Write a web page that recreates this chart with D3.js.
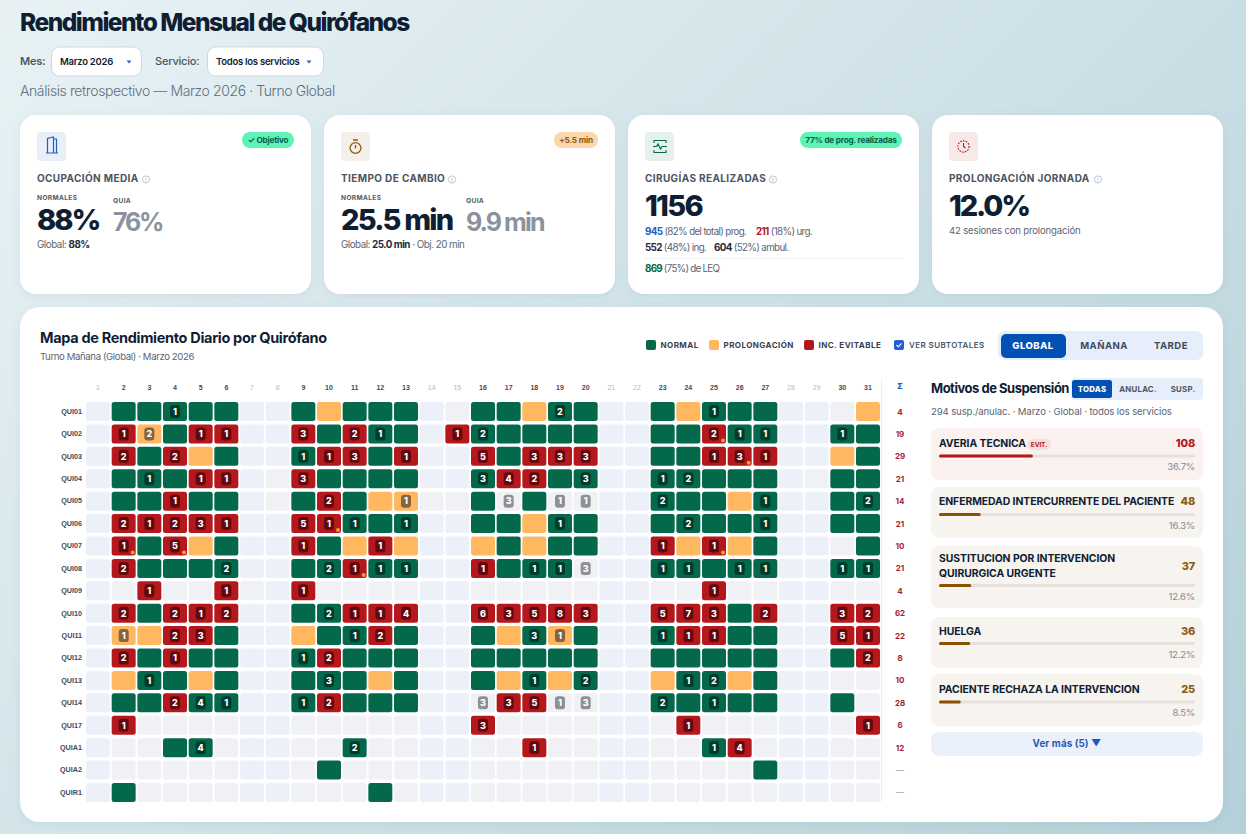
<!DOCTYPE html>
<html lang="es"><head><meta charset="utf-8"><title>Rendimiento Mensual de Quirófanos</title>
<script src="https://cdn.jsdelivr.net/npm/d3@7"></script>
<style>
html,body{margin:0;padding:0;overflow:hidden}
body{width:1246px;height:834px;background:linear-gradient(135deg,#e8f2f5 0%,#cfe2e8 50%,#b4d0d8 100%)}
svg{display:block;font-family:Inter,"Noto Sans",sans-serif}
</style></head><body><div id="app"></div>
<script>
const days = d3.range(1, 32);
const weekendDays = [1,7,8,14,15,21,22,28,29];
const rooms = ["QUI01","QUI02","QUI03","QUI04","QUI05","QUI06","QUI07","QUI08","QUI09","QUI10","QUI11","QUI12","QUI13","QUI14","QUI17","QUIA1","QUIA2","QUIR1"];
// N normal, R incidencia evitable, P prolongación, G sin sesión con suspensiones, - sin sesión, . fin de semana; número = suspensiones; * = aviso
const grid = [
". N N N1 N N . . N P N N N . - N N P N2 N . . N P N1 N N . . - P",
". R1 P2 N R1 R1 . . R3 N R2 N1 N . R1 N2 N N N N . . N N R2* N1 N1 . . N1 N",
". R2 N R2 P N . . N1 R1 R3 N R1 . . R5 N R3 R3 R3 . . N N R1 R3* R1 . . P N",
". N N1 N R1 R1 . - R3 N N N N . . N3 R4 R2 N N3 . . N1 N2 N N N . - N N",
". N N R1 N N . - N R2 N P P1 - - N G3 N G1 G1 . . N2 N N P N1 . . N N2",
". R2 R1 R2 R3 R1 . . R5 R1* N1 N N1 . . N N P N1 N . . N N2 N N N1 . . N N",
". R1* N R5* P N . . R1 N P R1 P . . P N P N N . . R1 P R1* P N . . - N",
". R2 N N N N2 . . N N2 R1* N1 N1 . . R1 N N1 N1 G3 . . N1 N1 N N1 N1 . . N1 N1",
". - R1 - - R1 - . R1 - - - - . . - - - - - . . - - R1 - - . . - -",
". R2 N R2 R1 R2 . . N N2 R1 R1 R4 . . R6 R3 R5 R8 R3 . . R5 R7 R3 N R2 . . R3 R2",
". P1 P R2 R3 N . . P N N1 R2 N . . N P N3 P1 N . . N1 R1 R1 N N . . R5 R1",
". R2 N R1 N N . . N1 R2 N N N . . N N N N N . . N N N N N . . N R2",
". P N1 N P N . . N N3 N P N . . N P N1 P N2 . . P N1 N2 P N . . - -",
". N N R2 N4 N1 . . N1 R2 N N N . . G3 R3 R5 G1 G3 . . N2 N N1 N N . . N -",
". R1 - - - - . . - - - - - . . R3 - - - - . . - R1 - - - . . - R1",
". - - N N4 - . . - - N2 - - . . - - R1 - - . . - - N1 R4 - . . - -",
". - - - - - . . - N - - - . . - - - - - . . - - - - N . . - -",
". N - - - - . . - - - N - . . - - - - - . . - - - - - . . - -"
];
const rowTotals = ["4","19","29","21","14","21","10","21","4","62","22","8","10","28","6","12","—","—"];
const motivoLabels = [["AVERIA TECNICA"],["ENFERMEDAD INTERCURRENTE DEL PACIENTE"],["SUSTITUCION POR INTERVENCION","QUIRURGICA URGENTE"],["HUELGA"],["PACIENTE RECHAZA LA INTERVENCION"]];
const motivoCounts = [108,48,37,36,25];
const motivoPct = [36.7,16.3,12.6,12.2,8.5];

const cellFill = {N:"#04694a", R:"#b4181c", P:"#ffb860", G:"#eff1f5", "-":"#eff1f5", ".":"#ebf0f9"};
const badgeFill = {N:"rgba(0,30,25,.62)", R:"rgba(50,0,5,.62)", P:"rgba(40,30,30,.55)", G:"#8e9096"};

const svg = d3.select("#app").append("svg").attr("width",1246).attr("height",834).attr("viewBox","0 0 1246 834");
const defs = svg.append("defs");
const f = defs.append("filter").attr("id","sh").attr("x","-5%").attr("y","-5%").attr("width","110%").attr("height","115%");
f.append("feDropShadow").attr("dx",0).attr("dy",2).attr("stdDeviation",4).attr("flood-color","#64808c").attr("flood-opacity",.12);

function T(g,x,y,s,o={}){
  const t=g.append("text").attr("x",x).attr("y",y).text(s)
   .attr("font-size",o.size||10).attr("font-weight",o.w||400).attr("fill",o.fill||"#0f1e33")
   .attr("text-anchor",o.a||"start").style("letter-spacing",(o.ls||0)+"px");
  return t;
}
function R(g,x,y,w,h,r,fill,o={}){
  const e=g.append("rect").attr("x",x).attr("y",y).attr("width",w).attr("height",h).attr("rx",r).attr("fill",fill);
  if(o.stroke) e.attr("stroke",o.stroke);
  if(o.filter) e.attr("filter",o.filter);
  return e;
}
function rich(g,x,y,parts,size,ls){
  const t=g.append("text").attr("x",x).attr("y",y).attr("font-size",size).style("letter-spacing",(ls||0)+"px");
  parts.forEach(p=>t.append("tspan").text(p[0]).attr("font-weight",p[1]||400).attr("fill",p[2]||"#5b6573"));
  return t;
}

// Header
T(svg,20,31,"Rendimiento Mensual de Quirófanos",{size:24.5,w:800,ls:-1.52});
T(svg,20,65,"Mes:",{size:11,w:600,fill:"#4b5563",ls:-.2});
R(svg,51.5,47,90,29,8,"#fff",{stroke:"#cdd8e2"});
T(svg,60,65,"Marzo 2026",{size:9.5,w:600,ls:-.25});
T(svg,155,65,"Servicio:",{size:11,w:500,fill:"#4b5563",ls:-.2});
R(svg,207.5,47,116,29,8,"#fff",{stroke:"#cdd8e2"});
T(svg,216,65,"Todos los servicios",{size:9.5,w:600,ls:-.26});
[129,309].forEach(cx=>svg.append("path").attr("d",`M${cx-2.5} 60.5h5l-2.5 3z`).attr("fill","#2f5fb5"));
T(svg,20,96,"Análisis retrospectivo — Marzo 2026 · Turno Global",{size:14,w:300,fill:"#5f6d7c",ls:-.4});

// KPI cards
const cardX=[20,324,628,932];
cardX.forEach(x=>R(svg,x,115,291,179,16,"#fff",{filter:"url(#sh)"}));
function info(x,y){
  const g=svg.append("g").attr("fill","none").attr("stroke","#aeb6c2").attr("stroke-width",.8);
  g.append("circle").attr("cx",x).attr("cy",y).attr("r",3.6);
  g.append("path").attr("d",`M${x} ${y-1.8}v3.8`);
}
const kpiLabel=(x,s,ix)=>{T(svg,x,182,s,{size:10,w:700,fill:"#4a5462",ls:.38});info(ix,179.5);};
const iconBox=(x,fill)=>R(svg,x,132,29,29,4,fill);
function pill(x0,x1,s,fill,col,cx){
  R(svg,x0,132,x1-x0,16,8,fill);
  T(svg,(x0+x1)/2,143,s,{size:8.2,w:700,fill:col,a:"middle",ls:-.2});
}
// card 1
iconBox(37,"#e8eff9");
svg.append("path").attr("d","M46 153h12M47.5 153v-14.5l6-1.5v16M53.5 139h3v14").attr("fill","none").attr("stroke","#1d5fc4").attr("stroke-width",1.2);
pill(242,294,"✓ Objetivo","#5ef3b4","#05604a");
kpiLabel(37,"OCUPACIÓN MEDIA",146);
T(svg,37,200,"NORMALES",{size:6.6,w:700,fill:"#525c69",ls:.35});
T(svg,113,203,"QUIA",{size:6.6,w:700,fill:"#525c69",ls:.35});
T(svg,37,230,"88%",{size:29,w:800,ls:-2});
T(svg,113,231,"76%",{size:25,w:700,fill:"#8a929e",ls:-2.2});
rich(svg,37,248,[["Global: ",400,"#5b6573"],["88%",700,"#1f2b3d"]],9.8,-.45);
// card 2
iconBox(341,"#f4efe8");
svg.append("g").attr("fill","none").attr("stroke","#8a5a10").attr("stroke-width",1.3).call(g=>{
  g.append("circle").attr("cx",355.5).attr("cy",148).attr("r",5.4);
  g.append("path").attr("d","M353 140h5M355.5 145v3.5");
});
pill(554,598,"+5.5 min","#fdd6ad","#8a5a10");
kpiLabel(341,"TIEMPO DE CAMBIO",452);
T(svg,341,200,"NORMALES",{size:6.6,w:700,fill:"#525c69",ls:.35});
T(svg,466,203,"QUIA",{size:6.6,w:700,fill:"#525c69",ls:.35});
T(svg,341,230,"25.5 min",{size:29,w:800,ls:-1.8});
T(svg,466,231,"9.9 min",{size:25,w:700,fill:"#8a929e",ls:-1.9});
rich(svg,341,248,[["Global: ",400,"#5b6573"],["25.0 min",700,"#1f2b3d"],[" · Obj. 20 min",400,"#5b6573"]],9.8,-.5);
// card 3
iconBox(645,"#e6f0ec");
svg.append("g").attr("fill","none").attr("stroke","#04694a").attr("stroke-width",1.1).call(g=>{
  g.append("path").attr("d","M654 143v-2.5h12v2.5M654 150v2.5h12v-2.5M653 146.5h3.5l1.5-2.5 2.5 5 1.5-2.5h5");
});
pill(800,902,"77% de prog. realizadas","#5ef3b4","#05604a");
kpiLabel(645,"CIRUGÍAS REALIZADAS",773);
T(svg,645,216,"1156",{size:29,w:800,ls:-1.7});
rich(svg,645,235,[["945",700,"#1d5fc4"],[" (82% del total) prog."]],9.8,-.65);
rich(svg,756,235,[["211",700,"#b4181c"],[" (18%) urg."]],9.8,-.65);
rich(svg,645,251,[["552",700,"#1f2b3d"],[" (48%) ing."]],9.8,-.65);
rich(svg,714,251,[["604",700,"#1f2b3d"],[" (52%) ambul."]],9.8,-.65);
svg.append("path").attr("d","M645 258.5H903").attr("stroke","#eef1f4");
rich(svg,645,272,[["869",700,"#04694a"],[" (75%) de LEQ"]],9.8,-.75);
// card 4
iconBox(949,"#f8e9e9");
svg.append("g").attr("fill","none").attr("stroke","#b4181c").attr("stroke-width",1.1).call(g=>{
  g.append("circle").attr("cx",963.5).attr("cy",146.5).attr("r",5.6).attr("stroke-dasharray","1.6 1.2");
  g.append("path").attr("d","M963.5 143v3.5l2 1.5");
});
kpiLabel(949,"PROLONGACIÓN JORNADA",1098);
T(svg,949,216,"12.0%",{size:29,w:800,ls:-2.1});
T(svg,949,234,"42 sesiones con prolongación",{size:9.6,fill:"#5b6573",ls:-.18});

// Main panel
R(svg,20,307,1203,515,20,"#fff",{filter:"url(#sh)"});
T(svg,40,343,"Mapa de Rendimiento Diario por Quirófano",{size:14.5,w:700,ls:-.32});
T(svg,40,360,"Turno Mañana (Global) · Marzo 2026",{size:9.6,fill:"#5b6573",ls:-.38});
const lg=[[646,"NORMAL","#04694a"],[709,"PROLONGACIÓN","#ffb860"],[804,"INC. EVITABLE","#b4181c"]];
lg.forEach(d=>{R(svg,d[0],340,10,10,2,d[2]);T(svg,d[0]+14.5,348,d[1],{size:8,w:700,fill:"#374151",ls:.45});});
R(svg,894,340,10,10,2,"#2a5bd7");
svg.append("path").attr("d","M896.5 345l1.8 1.8 3.2-3.4").attr("fill","none").attr("stroke","#fff").attr("stroke-width",1.1);
T(svg,909,348,"VER SUBTOTALES",{size:8,w:600,fill:"#4b5563",ls:.42});
R(svg,998,331,205,29,7,"#e6eefb");
R(svg,1001,334,65,24,5,"#0250b4");
T(svg,1033,349,"GLOBAL",{size:9.6,w:800,fill:"#fff",a:"middle",ls:.4});
T(svg,1104,349,"MAÑANA",{size:9.6,w:700,fill:"#3f4a5a",a:"middle",ls:.4});
T(svg,1171,349,"TARDE",{size:9.6,w:700,fill:"#3f4a5a",a:"middle",ls:.4});

// Heatmap
const x=d3.scaleBand().domain(days).range([86,880]).paddingInner(.065);
const y=d3.scaleBand().domain(rooms).range([402,802]).paddingInner(.152);
const cells=grid.flatMap((row,i)=>row.split(" ").map((tok,j)=>({
  room:rooms[i],day:days[j],kind:tok[0],n:tok.replace(/\D/g,""),dot:tok.endsWith("*")})));
const cg=svg.append("g");
const cell=cg.selectAll("g").data(cells).join("g").attr("transform",d=>`translate(${x(d.day)},${y(d.room)})`);
cell.append("rect").attr("width",x.bandwidth()).attr("height",y.bandwidth()).attr("rx",2.5).attr("fill",d=>cellFill[d.kind]);
const b=cell.filter(d=>d.n);
b.append("rect").attr("x",x.bandwidth()/2-5).attr("y",y.bandwidth()/2-6.5).attr("width",10).attr("height",13).attr("rx",3.2).attr("fill",d=>badgeFill[d.kind]);
b.append("text").attr("x",x.bandwidth()/2).attr("y",y.bandwidth()/2+3.3).attr("text-anchor","middle").attr("font-size",9).attr("font-weight",800).attr("fill","#fff").text(d=>d.n);
cell.filter(d=>d.dot).append("circle").attr("cx",x.bandwidth()-3).attr("cy",y.bandwidth()-3).attr("r",2).attr("fill","#f59a3c");

const ax=svg.append("g").attr("transform","translate(0,389.5)").call(d3.axisTop(x).tickSize(0).tickPadding(0));
ax.select(".domain").remove();
ax.selectAll("text").attr("font-family","inherit").attr("font-size",7).attr("font-weight",d=>weekendDays.includes(d)?500:700).attr("fill",d=>weekendDays.includes(d)?"#b3b9c3":"#3f4a5a");
const ay=svg.append("g").attr("transform","translate(82,0)").call(d3.axisLeft(y).tickSize(0).tickPadding(0));
ay.select(".domain").remove();
ay.selectAll("text").attr("font-family","inherit").attr("font-size",7.2).attr("font-weight",700).attr("fill","#3f4a5a");

svg.append("path").attr("d","M881.5 378V802").attr("stroke","#e8eef6");
T(svg,900,389,"Σ",{size:8,w:800,fill:"#1d5fc4",a:"middle"});
svg.append("g").selectAll("text").data(rooms).join("text").attr("x",900).attr("y",d=>y(d)+y.bandwidth()/2+3)
 .attr("text-anchor","middle").attr("font-size",8).attr("font-weight",700)
 .attr("fill",(d,i)=>rowTotals[i]==="—"?"#b3b9c3":"#a51c30").text((d,i)=>rowTotals[i]);

// Motivos
T(svg,931,393,"Motivos de Suspensión",{size:13,w:700,ls:-.48});
R(svg,1071,378,132,22,4,"#e6eefb");
R(svg,1072,380,40,18,2.5,"#0250b4");
T(svg,1092,392,"TODAS",{size:7.8,w:800,fill:"#fff",a:"middle",ls:.25});
T(svg,1138,392,"ANULAC.",{size:7.8,w:700,fill:"#4b5563",a:"middle",ls:.25});
T(svg,1183,392,"SUSP.",{size:7.8,w:700,fill:"#4b5563",a:"middle",ls:.25});
T(svg,931,415,"294 susp./anulac. · Marzo · Global · todos los servicios",{size:9.6,fill:"#5b6573",ls:-.13});
const barX=d3.scaleLinear().domain([0,100]).range([0,256]);
const cardTop=[428,487,546,617,674], cardH=[52,51,62,51,52];
const labelOff=[19,18,16,17.5,19], barOff=[26.5,26,38,25,26.5], valOff=[19,18,24,17.5,19];
motivoLabels.forEach((lab,i)=>{
  const g=svg.append("g").attr("transform",`translate(931,${cardTop[i]})`);
  const c=i===0?"#b4181c":"#8a5200";
  R(g,0,0,272,cardH[i],8,i===0?"#fbf1ef":"#f7f3ee");
  lab.forEach((s,k)=>T(g,8,labelOff[i]+k*15,s,{size:10.4,w:700,ls:-.06}));
  T(g,264,valOff[i],String(motivoCounts[i]),{size:11,w:800,fill:i===0?"#b4181c":"#8a5a10",a:"end",ls:-.2});
  const by=barOff[i];
  R(g,8,by,256,3,1.5,"#e6e1dd");
  R(g,8,by,barX(motivoPct[i]),3,1.5,c);
  T(g,264,by+15.5,motivoPct[i].toFixed(1)+"%",{size:9.6,fill:"#858b94",a:"end",ls:-.25});
  if(i===0){
    R(g,96,11,24,11,5.5,"#f6dedd");
    T(g,108,19.2,"EVIT.",{size:6.5,w:700,fill:"#b4181c",a:"middle",ls:-.1});
  }
});
R(svg,931,732,272,24,8,"#ebf1fa");
T(svg,1067,747,"Ver más (5) ▼",{size:9.8,w:700,fill:"#1e5bb5",a:"middle",ls:.1});
</script></body></html>
